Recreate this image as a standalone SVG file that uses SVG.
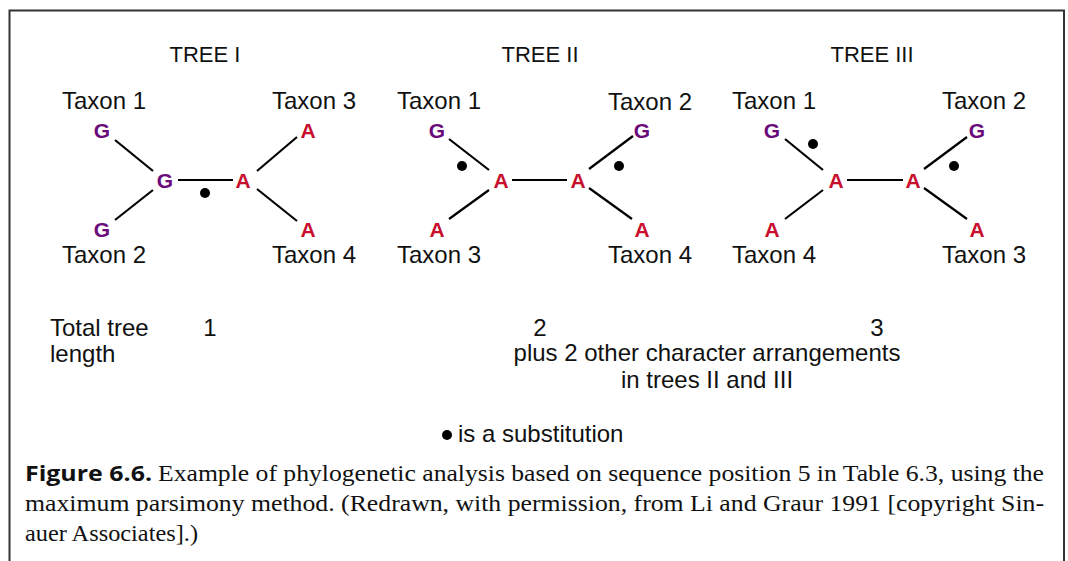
<svg xmlns="http://www.w3.org/2000/svg" width="1068" height="561" viewBox="0 0 1068 561">
<style>
.t{font-family:"Liberation Sans",Arial,sans-serif;font-size:24px;fill:#111}
.h{font-family:"Liberation Sans",Arial,sans-serif;font-size:22px;fill:#111;text-anchor:middle}
.g{font-family:"Liberation Sans",Arial,sans-serif;font-size:21px;font-weight:bold;fill:#6b0a7a;text-anchor:middle}
.a{font-family:"Liberation Sans",Arial,sans-serif;font-size:21px;font-weight:bold;fill:#c8102e;text-anchor:middle}
.c{font-family:"Liberation Serif","Times New Roman",serif;font-size:23.5px;fill:#111}
.cb{font-family:"Open Sans","Liberation Sans",sans-serif;font-size:22px;font-weight:bold;fill:#111}
.m{text-anchor:middle}
line{stroke:#000;stroke-width:2.2}
</style>
<rect x="0" y="0" width="1068" height="561" fill="#fff"/>
<path d="M9.5 561 V10.5 H1064 V561" fill="none" stroke="#333" stroke-width="2"/>

<g id="connectors">
<line x1="115" y1="140" x2="153" y2="171"/>
<line x1="115" y1="220" x2="153" y2="190"/>
<line x1="178" y1="180" x2="233" y2="180"/>
<line x1="257" y1="171" x2="297" y2="137"/>
<line x1="257" y1="189" x2="297" y2="221"/>

<line x1="449" y1="139" x2="489" y2="170"/>
<line x1="449" y1="219" x2="489" y2="190"/>
<line x1="512" y1="180" x2="567" y2="180"/>
<line x1="589" y1="169" x2="633" y2="136"/>
<line x1="589" y1="188" x2="632" y2="219"/>

<line x1="785" y1="139" x2="823" y2="170"/>
<line x1="785" y1="219" x2="823" y2="190"/>
<line x1="847" y1="180" x2="903" y2="180"/>
<line x1="924" y1="169" x2="967" y2="137"/>
<line x1="924" y1="188" x2="967" y2="219"/>
</g>

<g id="dots">
<circle cx="205" cy="193" r="5"/>
<circle cx="462" cy="166" r="5"/>
<circle cx="619" cy="166" r="5"/>
<circle cx="813" cy="144" r="5"/>
<circle cx="954" cy="166" r="5"/>
</g>

<g id="tree1">
<text class="h" x="205" y="62">TREE I</text>
<text class="t" x="62" y="109">Taxon 1</text>
<text class="t" x="272" y="109">Taxon 3</text>
<text class="t" x="62" y="263">Taxon 2</text>
<text class="t" x="272" y="263">Taxon 4</text>
<text class="g" x="102" y="138">G</text>
<text class="g" x="102" y="237">G</text>
<text class="g" x="165" y="188">G</text>
<text class="a" x="243" y="188">A</text>
<text class="a" x="308" y="138">A</text>
<text class="a" x="308" y="237">A</text>
</g>

<g id="tree2">
<text class="h" x="540" y="62">TREE II</text>
<text class="t" x="397" y="109">Taxon 1</text>
<text class="t" x="608" y="110">Taxon 2</text>
<text class="t" x="397" y="263">Taxon 3</text>
<text class="t" x="608" y="263">Taxon 4</text>
<text class="g" x="437" y="138">G</text>
<text class="a" x="437" y="237">A</text>
<text class="a" x="501" y="188">A</text>
<text class="a" x="578" y="188">A</text>
<text class="g" x="642" y="138">G</text>
<text class="a" x="642" y="237">A</text>
</g>

<g id="tree3">
<text class="h" x="872" y="62">TREE III</text>
<text class="t" x="732" y="109">Taxon 1</text>
<text class="t" x="942" y="109">Taxon 2</text>
<text class="t" x="732" y="263">Taxon 4</text>
<text class="t" x="942" y="263">Taxon 3</text>
<text class="g" x="772" y="138">G</text>
<text class="a" x="772" y="237">A</text>
<text class="a" x="836" y="188">A</text>
<text class="a" x="913" y="188">A</text>
<text class="g" x="977" y="138">G</text>
<text class="a" x="977" y="237">A</text>
</g>

<g id="lengths">
<text class="t" x="50" y="336">Total tree</text>
<text class="t" x="50" y="362">length</text>
<text class="t m" x="210" y="336">1</text>
<text class="t m" x="540" y="336">2</text>
<text class="t m" x="877" y="336">3</text>
<text class="t m" x="707" y="361">plus 2 other character arrangements</text>
<text class="t m" x="707" y="388">in trees II and III</text>
</g>

<g id="legend">
<circle cx="447" cy="435" r="5"/>
<text class="t" x="458" y="442">is a substitution</text>
</g>

<g id="caption">
<text class="cb" x="25" y="481" textLength="127" lengthAdjust="spacingAndGlyphs">Figure 6.6.</text>
<text class="c" x="158" y="481" textLength="886" lengthAdjust="spacingAndGlyphs">Example of phylogenetic analysis based on sequence position 5 in Table 6.3, using the</text>
<text class="c" x="25" y="511" textLength="1019" lengthAdjust="spacingAndGlyphs">maximum parsimony method. (Redrawn, with permission, from Li and Graur 1991 [copyright Sin-</text>
<text class="c" x="25" y="541" textLength="173" lengthAdjust="spacingAndGlyphs">auer Associates].)</text>
</g>
</svg>
